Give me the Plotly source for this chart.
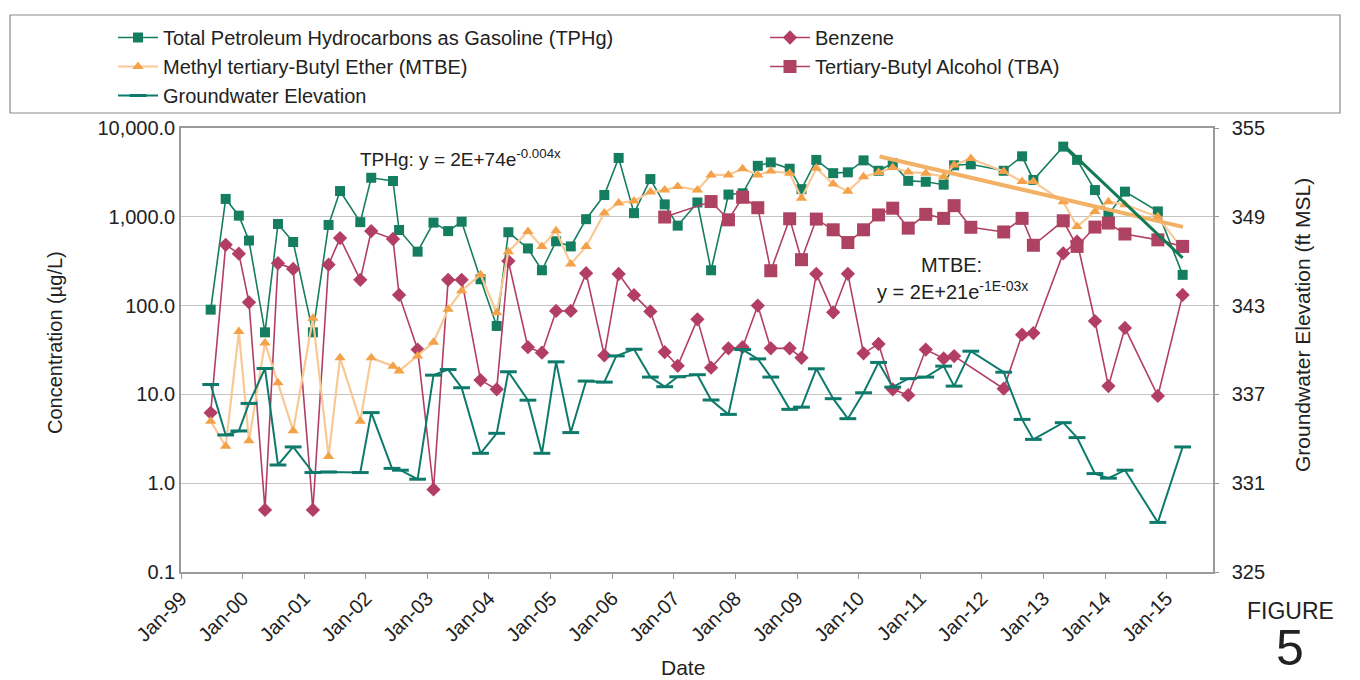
import plotly.graph_objects as go

# ---------------- data ----------------
TPHG_DATES = ["1999-06-26","1999-09-23","1999-12-10","2000-02-08","2000-05-13","2000-07-29","2000-10-27",
              "2001-02-21","2001-05-25","2001-08-01","2001-11-29","2002-02-02","2002-06-11","2002-07-17",
              "2002-11-04","2003-02-06","2003-05-04","2003-07-23","2003-11-12","2004-02-16","2004-04-25",
              "2004-08-19","2004-11-10","2005-02-02","2005-04-30","2005-07-30","2005-11-15","2006-02-08",
              "2006-05-10","2006-08-15","2006-11-08","2007-01-24","2007-05-21","2007-08-10","2007-11-21",
              "2008-02-13","2008-05-13","2008-07-29","2008-11-18","2009-01-27","2009-04-25","2009-08-03",
              "2009-10-29","2010-01-30","2010-04-29","2010-07-22","2010-10-22","2011-02-03","2011-05-20",
              "2011-07-21","2011-10-28","2012-05-10","2012-08-27","2012-11-02","2013-04-28","2013-07-19",
              "2013-11-02","2014-01-21","2014-04-29","2014-11-10","2015-04-06"]
TPHG_VALUES = [90, 1590, 1030, 540, 50, 830, 520,
               50, 810, 1950, 870, 2750, 2530, 710,
               405, 860, 690, 880, 198, 59, 670,
               440, 250, 530, 464, 940, 1760, 4600,
               1100, 2660, 1380, 795, 1450, 250, 1780,
               1840, 3750, 4100, 3480, 2050, 4370, 3100,
               3170, 4320, 3300, 4000, 2540, 2480, 2300,
               3800, 3900, 3300, 4800, 2600, 6170, 4380,
               2000, 1050, 1920, 1150, 222]

BENZ_DATES = ["1999-06-26","1999-09-23","1999-12-10","2000-02-08","2000-05-13","2000-07-29","2000-10-27",
              "2001-02-21","2001-05-25","2001-08-01","2001-11-29","2002-02-02","2002-06-11","2002-07-17",
              "2002-11-04","2003-02-06","2003-05-04","2003-07-23","2003-11-12","2004-02-16","2004-04-25",
              "2004-08-19","2004-11-10","2005-02-02","2005-04-30","2005-07-30","2005-11-15","2006-02-08",
              "2006-05-10","2006-08-15","2006-11-08","2007-01-24","2007-05-21","2007-08-10","2007-11-21",
              "2008-02-13","2008-05-13","2008-07-29","2008-11-18","2009-01-27","2009-04-25","2009-08-03",
              "2009-10-29","2010-01-30","2010-04-29","2010-07-22","2010-10-22","2011-02-03","2011-05-20",
              "2011-07-21","2012-05-10","2012-08-27","2012-11-02","2013-04-28","2013-07-19","2013-11-02",
              "2014-01-21","2014-04-29","2014-11-10","2015-04-06"]
BENZ_VALUES = [6.2, 484, 384, 109, 0.5, 300, 259,
               0.5, 289, 576, 195, 690, 562, 132,
               32, 0.85, 195, 195, 14.5, 11.4, 317,
               34, 29.5, 87, 87, 232, 27.5, 227,
               131, 86, 30, 21, 70, 20, 33,
               34, 100, 33, 33, 25.8, 228, 84,
               228, 29, 37, 11.4, 9.8, 32, 25.4,
               27, 11.6, 47, 49, 388, 526, 67,
               12.4, 56, 9.6, 132]

MTBE_DATES = TPHG_DATES
MTBE_VALUES = [5.0, 2.6, 51, 3.0, 38, 13.5, 3.9,
               72, 2.0, 25.8, 5.0, 25.8, 20.8, 18.3,
               27, 38.6, 91, 147, 223, 83, 405,
               684, 464, 697, 294, 464, 1100, 1430,
               1510, 1900, 2000, 2190, 2000, 2960, 2960,
               3480, 2960, 3270, 3100, 1620, 3520, 2340,
               1940, 2830, 3150, 3600, 3190, 3100, 2830,
               3840, 4520, 3230, 2490, 2490, 1480, 776,
               1150, 1480, 1370, 1000, 430]

TBA_DATES = ["2006-11-08","2007-08-10","2007-11-21","2008-02-13","2008-05-13","2008-07-29","2008-11-18",
             "2009-01-27","2009-04-25","2009-08-03","2009-10-29","2010-01-30","2010-04-29","2010-07-22",
             "2010-10-22","2011-02-03","2011-05-20","2011-07-21","2011-10-28","2012-05-10","2012-08-27",
             "2012-11-02","2013-04-28","2013-07-19","2013-11-02","2014-01-21","2014-04-29","2014-11-10",
             "2015-04-06"]
TBA_VALUES = [994, 1485, 925, 1660, 1265, 247, 950,
              329, 942, 714, 513, 714, 1050, 1250,
              746, 1065, 960, 1335, 762, 675, 960,
              478, 902, 464, 766, 850, 640, 550,
              464]

GW_DATES = ["1999-06-26","1999-09-23","1999-12-10","2000-02-08","2000-05-13","2000-07-29","2000-10-27",
            "2001-02-21","2001-05-25","2001-11-29","2002-02-02","2002-06-05","2002-07-25","2002-11-04",
            "2003-02-06","2003-05-04","2003-07-23","2003-11-12","2004-02-16","2004-04-25","2004-08-19",
            "2004-11-10","2005-02-02","2005-04-30","2005-07-30","2005-11-15","2006-01-25","2006-05-10",
            "2006-08-15","2006-11-08","2007-01-24","2007-05-21","2007-08-10","2007-11-21","2008-02-13",
            "2008-05-13","2008-07-29","2008-11-18","2009-01-27","2009-04-25","2009-08-03","2009-10-29",
            "2010-01-30","2010-04-29","2010-07-22","2010-10-22","2011-02-03","2011-05-20","2011-07-21",
            "2011-10-28","2012-05-10","2012-08-27","2012-11-02","2013-04-28","2013-07-19","2013-11-02",
            "2014-01-21","2014-04-29","2014-11-10","2015-04-06"]
GW_VALUES = [337.67, 334.26, 334.53, 336.39, 338.75, 332.23, 333.45,
             331.72, 331.76, 331.72, 335.77, 332.00, 331.88, 331.27,
             338.30, 338.68, 337.45, 333.02, 334.37, 338.53, 336.61,
             333.02, 339.20, 334.42, 337.90, 337.83, 339.60, 340.05,
             338.17, 337.52, 338.19, 338.33, 336.62, 335.65, 340.03,
             339.40, 338.17, 335.99, 336.14, 338.73, 336.71, 335.36,
             337.11, 339.16, 337.49, 338.06, 338.17, 338.91, 337.56,
             339.92, 338.50, 335.31, 333.96, 335.09, 334.08, 331.65,
             331.34, 331.88, 328.35, 333.45]

TPHG_TREND_DATES = ["2013-05-20", "2015-04-06"]
TPHG_TREND_VALUES = [5900, 345]
MTBE_TREND_DATES = ["2010-05-05", "2015-04-08"]
MTBE_TREND_VALUES = [4770, 770]

YEAR_TICKS = [f"{y}-01-01" for y in range(1999, 2016)]
YEAR_LABELS = [f"Jan-{str(y)[2:]}" for y in range(1999, 2016)]
CONC_TICKS = [0.1, 1, 10, 100, 1000, 10000]
CONC_LABELS = ["0.1", "1.0", "10.0", "100.0", "1,000.0", "10,000.0"]
GW_TICKS = [325, 331, 337, 343, 349, 355]

# ---------------- style ----------------
GREEN = "#167E60"
TEAL = "#0E7A6C"
MAGENTA = "#B23E66"
TBA_C = "#AE4262"
ORANGE = "#F4A24A"
ORANGE_L = "#F8C995"
FONT = "Liberation Sans, Arial, sans-serif"
TXT = "#222222"

fig = go.Figure()

fig.add_trace(go.Scatter(x=TPHG_DATES, y=TPHG_VALUES, mode="lines+markers",
                         name="Total Petroleum Hydrocarbons as Gasoline (TPHg)", legend="legend",
                         line=dict(color=GREEN, width=1.6),
                         marker=dict(symbol="square", size=10, color=GREEN)))
fig.add_trace(go.Scatter(x=BENZ_DATES, y=BENZ_VALUES, mode="lines+markers", name="Benzene",
                         legend="legend2",
                         line=dict(color=MAGENTA, width=1.6),
                         marker=dict(symbol="diamond", size=11, color=MAGENTA)))
fig.add_trace(go.Scatter(x=MTBE_DATES, y=MTBE_VALUES, mode="lines+markers",
                         name="Methyl tertiary-Butyl Ether (MTBE)", legend="legend",
                         line=dict(color=ORANGE_L, width=2.2),
                         marker=dict(symbol="triangle-up", size=10, color=ORANGE)))
fig.add_trace(go.Scatter(x=TBA_DATES, y=TBA_VALUES, mode="lines+markers",
                         name="Tertiary-Butyl Alcohol (TBA)", legend="legend2",
                         line=dict(color=TBA_C, width=1.6),
                         marker=dict(symbol="square", size=13, color=TBA_C)))
fig.add_trace(go.Scatter(x=GW_DATES, y=GW_VALUES, mode="lines+markers", name="Groundwater Elevation",
                         legend="legend", yaxis="y2", line=dict(color=TEAL, width=2),
                         marker=dict(symbol="line-ew", size=12, color=TEAL,
                                     line=dict(color=TEAL, width=3))))
fig.add_trace(go.Scatter(x=MTBE_TREND_DATES, y=MTBE_TREND_VALUES, mode="lines", showlegend=False,
                         line=dict(color="#F2B165", width=4), hoverinfo="skip"))
fig.add_trace(go.Scatter(x=TPHG_TREND_DATES, y=TPHG_TREND_VALUES, mode="lines", showlegend=False,
                         line=dict(color="#137A55", width=3), hoverinfo="skip"))

# The page body adds an 8 px margin, so the figure is laid out in page pixels minus 8.
OFF = 8
W, H = 1360 - OFF, 680 - OFF
PLOT_X0, PLOT_X1, PLOT_Y0, PLOT_Y1 = 181, 1213, 128, 572   # page pixels
L, T = PLOT_X0 - OFF, PLOT_Y0 - OFF
R, B = W - (PLOT_X1 - OFF), H - (PLOT_Y1 - OFF)
PW, PH = PLOT_X1 - PLOT_X0, PLOT_Y1 - PLOT_Y0


def px(xp):
    return (xp - PLOT_X0) / PW


def py(yp):
    return (PLOT_Y1 - yp) / PH


LEG_FONT = dict(size=20, color=TXT)


def ann(text, x, y, size, angle=0, xanchor="center"):
    return dict(text=text, xref="paper", yref="paper", x=px(x), y=py(y), textangle=angle,
                xanchor=xanchor, yanchor="middle", showarrow=False,
                font=dict(size=size, color=TXT, family=FONT))


fig.update_layout(
    width=W, height=H,
    margin=dict(l=L, r=R, t=T, b=B, autoexpand=False),
    paper_bgcolor="white", plot_bgcolor="white",
    font=dict(family=FONT, size=20, color=TXT),
    showlegend=True,
    legend=dict(orientation="v", x=px(113), y=py(18), xanchor="left", yanchor="top",
                font=LEG_FONT, bgcolor="rgba(0,0,0,0)", itemwidth=40, tracegroupgap=0),
    legend2=dict(orientation="v", x=px(765), y=py(18), xanchor="left", yanchor="top",
                 font=LEG_FONT, bgcolor="rgba(0,0,0,0)", itemwidth=40, tracegroupgap=0),
    xaxis=dict(type="date", range=["1999-01-01", "2015-10-03"],
               tickvals=YEAR_TICKS, ticktext=YEAR_LABELS, tickangle=-45,
               ticks="outside", ticklen=5, tickcolor="#999999",
               showgrid=False, showline=True, linecolor="#9a9a9a", linewidth=1.5, mirror=True,
               tickfont=dict(size=20, color=TXT), zeroline=False),
    yaxis=dict(type="log", range=[-1, 4], tickvals=CONC_TICKS, ticktext=CONC_LABELS,
               showgrid=True, gridcolor="#c4c4c4", gridwidth=1.2,
               showline=True, linecolor="#9a9a9a", linewidth=1.5,
               ticks="", tickfont=dict(size=20, color=TXT), zeroline=False),
    yaxis2=dict(overlaying="y", side="right", range=[325, 355], tickvals=GW_TICKS,
                showgrid=False, showline=True, linecolor="#9a9a9a", linewidth=1.5,
                ticks="outside", ticklen=4, tickcolor="#999999", ticklabelstandoff=9,
                tickfont=dict(size=20, color=TXT), zeroline=False),
    shapes=[dict(type="rect", xref="paper", yref="paper", x0=px(10), x1=px(1340), y0=py(113), y1=py(15),
                 line=dict(color="#8a8a8a", width=1.2), fillcolor="rgba(0,0,0,0)", layer="below")],
    annotations=[
        ann("Concentration (µg/L)", 55, 343, 20, angle=-90),
        ann("Groundwater Elevation (ft MSL)", 1302, 325, 21, angle=-90),
        ann("Date", 683, 667, 21),
        ann("TPHg: y = 2E+74e<sup>-0.004x</sup>", 358, 158, 19, xanchor="left"),
        ann("MTBE:", 951, 265, 20),
        ann("y = 2E+21e<sup>-1E-03x</sup>", 952, 290, 20),
        ann("FIGURE", 1290, 611, 23),
        ann("5", 1290, 648, 50),
    ],
)

fig.write_html("out.html")
